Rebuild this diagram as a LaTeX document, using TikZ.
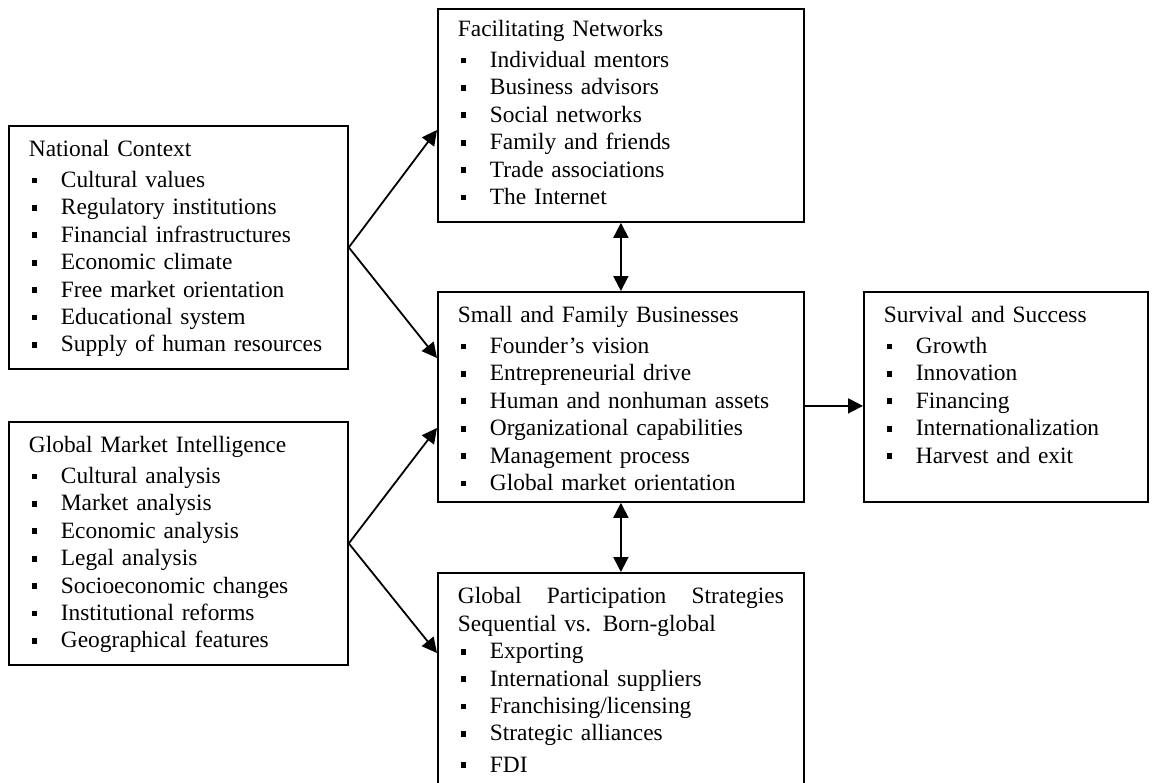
\documentclass[tikz,border=0pt]{standalone}
\usepackage{fontspec}
\setmainfont{Liberation Serif}
\usepackage{tikz}
\usetikzlibrary{arrows.meta,calc}

% square bullet in front of each list entry
\newcommand\bul{\makebox[16pt][l]{\hspace{1.3pt}\rule[2.1pt]{2.9pt}{2.9pt}}}

\tikzset{
  panel/.style={draw, line width=0.9pt, anchor=north west, align=left,
    inner xsep=10pt, inner ysep=5.9pt, text height=9.6pt,
    font=\fontsize{11.7}{13.7}\selectfont},
  link/.style={line width=0.9pt, -{Triangle[length=7.5pt,width=7.5pt]}},
  both/.style={line width=0.9pt, {Triangle[length=7.5pt,width=7.5pt]}-{Triangle[length=7.5pt,width=7.5pt]}}
}

\begin{document}
\begin{tikzpicture}[x=0.5pt,y=-0.5pt]
        \path[use as bounding box, clip] (0,0) rectangle (1156,782);

        % left column
        \node[panel, text width=149.5pt, text depth=100.1pt] (nc) at (8,125)
          {National Context\\[1.6pt]
           \bul Cultural values\\
           \bul Regulatory institutions\\
           \bul Financial infrastructures\\
           \bul Economic climate\\
           \bul Free market orientation\\
           \bul Educational system\\
           \bul Supply of human resources};
        \node[panel, text width=149.5pt, text depth=100.1pt] (gmi) at (8,421)
          {Global Market Intelligence\\[1.6pt]
           \bul Cultural analysis\\
           \bul Market analysis\\
           \bul Economic analysis\\
           \bul Legal analysis\\
           \bul Socioeconomic changes\\
           \bul Institutional reforms\\
           \bul Geographical features};

        % middle column
        \node[panel, inner ysep=4.4pt, text width=163pt, text depth=88.1pt] (fn) at (437,8)
          {Facilitating Networks\\[1.6pt]
           \bul Individual mentors\\
           \bul Business advisors\\
           \bul Social networks\\
           \bul Family and friends\\
           \bul Trade associations\\
           \bul The Internet};
        \node[panel, text width=163pt, text depth=83.6pt] (sfb) at (437,291)
          {Small and Family Businesses\\[1.6pt]
           \bul Founder's vision\\
           \bul Entrepreneurial drive\\
           \bul Human and nonhuman assets\\
           \bul Organizational capabilities\\
           \bul Management process\\
           \bul Global market orientation};
        % runs off the bottom edge
        \node[panel, text width=163pt, text depth=92.6pt] (gps) at (437,572)
          {Global\hfill Participation\hfill Strategies\\
           Sequential vs. Born-global\\
           \bul Exporting\\
           \bul International suppliers\\
           \bul Franchising/licensing\\
           \bul Strategic alliances\\[2pt]
           \bul FDI};

        % right column
        \node[panel, text width=122pt, text depth=83.6pt] (ss) at (863,291)
          {Survival and Success\\[1.6pt]
           \bul Growth\\
           \bul Innovation\\
           \bul Financing\\
           \bul Internationalization\\
           \bul Harvest and exit};

        % connectors
        \draw[link] (nc.east) -- ($(fn.north west)+(0,122)$);
        \draw[link] (nc.east) -- ($(sfb.north west)+(0,67)$);
        \draw[link] (gmi.east) -- ($(sfb.north west)+(0,137)$);
        \draw[link] (gmi.east) -- ($(gps.north west)+(0,81)$);
        \draw[both] (fn.south) -- (sfb.north);
        \draw[both] (sfb.south) -- (gps.north);
        \draw[link] ($(sfb.east)+(0,9)$) -- ($(ss.west)+(0,9)$);
    \end{tikzpicture}
\end{document}
